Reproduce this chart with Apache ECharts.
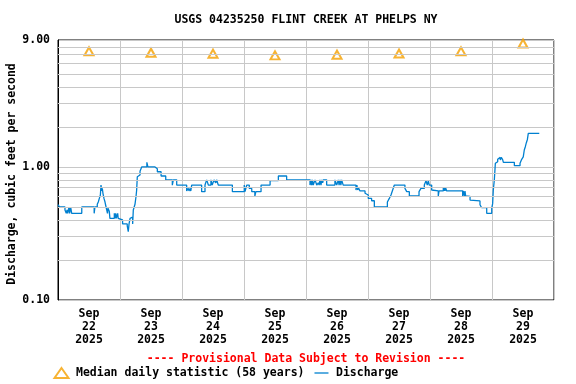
<!DOCTYPE html>
<html><head><meta charset="utf-8">
<script src="https://cdn.jsdelivr.net/npm/echarts@6/dist/echarts.min.js"></script>
<style>html,body{margin:0;padding:0;background:#fff}#c{width:576px;height:384px}</style>
</head><body><div id="c"></div>
<script>
const chartTitle = 'USGS 04235250 FLINT CREEK AT PHELPS NY';
const yAxisTitle = 'Discharge, cubic feet per second';
const provisionalNote = '---- Provisional Data Subject to Revision ----';
const medianName = 'Median daily statistic (58 years)';
const dischargeName = 'Discharge';
const dayLabels = ['Sep\n22\n2025','Sep\n23\n2025','Sep\n24\n2025','Sep\n25\n2025','Sep\n26\n2025','Sep\n27\n2025','Sep\n28\n2025','Sep\n29\n2025'];
// hours since Sep 22 00:00
const medianHours = [12,36,60,84,108,132,156,180];
const medianValues = [7.40,7.22,7.10,6.90,6.98,7.12,7.40,8.47];
const minorGridValues = [0.2,0.3,0.4,0.5,0.6,0.7,0.8,0.9,2,3,4,5,6,7,8];
const dischargeHours = [0,0.6,2.7,3.2,3.5,3.75,4.25,4.5,4.9,5.3,9.2,14.0,14.3,15.2,15.6,16.0,16.4,16.65,16.9,17.15,17.4,17.8,18.2,18.6,18.85,19.15,19.35,19.5,19.85,20.1,21.8,22.0,22.35,22.55,23.1,23.3,24.0,25.0,26.8,27.2,27.5,27.9,28.5,28.9,29.15,29.8,30.2,30.45,30.7,31.1,31.75,32.4,34.4,34.8,37.55,38.45,39.9,41.7,44.25,44.65,45.95,49.8,50.45,50.7,51.1,51.4,51.75,55.6,56.9,57.55,58.2,59.2,59.7,60.4,61.05,61.5,61.75,62.05,67.5,72.1,72.4,73.05,74.05,75.0,76.2,76.6,78.6,82.1,85.3,88.5,97.55,97.9,98.2,98.5,98.8,99.5,100.15,100.75,101.1,101.4,101.8,102.1,102.45,102.7,104.0,107.2,107.9,108.5,108.8,109.2,109.5,109.8,110.4,115.35,115.7,116.0,116.25,116.9,118.85,119.5,120.1,121.4,122.45,127.5,128.25,128.9,129.55,130.2,134.3,135.0,136.0,139.75,140.5,141.8,142.45,142.95,143.35,143.7,144.65,145.3,147.2,147.5,149.15,149.4,149.6,149.8,150.0,150.45,156.65,156.9,157.3,157.55,157.8,158.2,159.5,160.15,163.35,164.0,165.95,167.9,168.25,168.5,168.9,169.3,169.65,170.2,170.6,171.2,171.6,172.15,172.4,176.65,177.6,177.9,178.85,179.5,180.1,180.5,180.9,181.3,181.7,182.05,186.3];
const dischargeValues = [0.52,0.50,0.475,0.448,0.475,0.448,0.50,0.448,0.50,0.448,0.50,0.448,0.50,0.524,0.545,0.58,0.615,0.73,0.66,0.69,0.634,0.58,0.545,0.50,0.475,0.448,0.49,0.50,0.465,0.411,0.448,0.411,0.448,0.411,0.448,0.411,0.40,0.373,0.36,0.326,0.373,0.411,0.42,0.373,0.475,0.524,0.60,0.671,0.845,0.87,0.93,1.0,1.084,1.0,0.97,0.92,0.855,0.80,0.73,0.80,0.731,0.66,0.69,0.66,0.69,0.66,0.731,0.652,0.731,0.80,0.731,0.80,0.731,0.80,0.76,0.80,0.76,0.731,0.652,0.731,0.652,0.731,0.69,0.652,0.605,0.652,0.731,0.79,0.855,0.80,0.731,0.80,0.731,0.80,0.731,0.80,0.731,0.76,0.731,0.80,0.731,0.80,0.76,0.80,0.731,0.80,0.731,0.80,0.731,0.80,0.731,0.80,0.731,0.671,0.731,0.671,0.70,0.66,0.634,0.615,0.58,0.557,0.50,0.545,0.58,0.615,0.671,0.731,0.69,0.652,0.605,0.652,0.69,0.731,0.788,0.731,0.788,0.731,0.671,0.66,0.605,0.66,0.70,0.66,0.70,0.66,0.70,0.66,0.605,0.66,0.605,0.66,0.605,0.60,0.564,0.555,0.52,0.494,0.448,0.49,0.53,0.671,0.80,1.065,1.095,1.142,1.18,1.13,1.18,1.13,1.084,1.022,1.05,1.022,1.065,1.142,1.19,1.341,1.42,1.522,1.61,1.79,1.79];

const FONT = '"DejaVu Sans Mono", monospace';
const FS = 11.5;
const chart = echarts.init(document.getElementById('c'), null, {renderer: 'canvas'});
chart.setOption({
  animation: false,
  backgroundColor: '#fff',
  textStyle: {fontFamily: FONT},
  grid: {left: 58, right: 22, top: 40, bottom: 84, show: true, borderColor: '#000', borderWidth: 1, backgroundColor: 'transparent'},
  legend: {
    left: 48.5, top: 362, padding: 5, itemWidth: 14, itemHeight: 10, itemGap: 10,
    textStyle: {fontFamily: FONT, fontSize: FS, fontWeight: 'bold', color: '#000', padding: [0,0,0,2.5]},
    data: [{name: medianName, icon: 'emptyTriangle'}, {name: dischargeName, icon: 'path://M0,0H14V1.3H0Z'}]
  },
  xAxis: [{
    type: 'value', min: 0, max: 192, interval: 24,
    axisLine: {show: false}, axisTick: {show: false}, axisLabel: {show: false},
    splitLine: {show: true, lineStyle: {color: '#c8c8c8', width: 1}}
  }, {
    type: 'category', position: 'bottom', data: dayLabels, boundaryGap: true,
    axisLine: {show: false}, axisTick: {show: false}, splitLine: {show: false},
    axisLabel: {fontFamily: FONT, fontSize: FS, fontWeight: 'bold', color: '#000', lineHeight: 13.4, margin: 7, interval: 0}
  }],
  yAxis: {
    type: 'log', logBase: 10, min: 0.1, max: 9,
    axisLine: {show: true, lineStyle: {color: '#000'}}, axisTick: {show: false},
    axisLabel: {fontFamily: FONT, fontSize: FS, fontWeight: 'bold', color: '#000', margin: 8, formatter: v => Number(v).toFixed(2)},
    splitLine: {show: true, lineStyle: {color: '#c8c8c8', width: 1}}
  },
  series: [{
    name: 'grid', type: 'line', data: [], silent: true, z: 1,
    markLine: {silent: true, symbol: ['none','none'], label: {show: false},
      lineStyle: {color: '#c8c8c8', width: 1, type: 'solid'},
      data: minorGridValues.map(v => ({yAxis: v}))}
  }, {
    name: dischargeName, type: 'line', step: 'end', showSymbol: false, symbol: 'none', z: 3,
    color: '#0080D0', lineStyle: {color: '#0080D0', width: 1.3},
    data: dischargeHours.map((h, i) => [h, dischargeValues[i]])
  }, {
    name: medianName, type: 'scatter', symbol: 'emptyTriangle', symbolSize: [9, 8], z: 4,
    itemStyle: {color: '#F5A000', borderWidth: 1},
    data: medianHours.map((h, i) => [h, medianValues[i]])
  }],
  graphic: [
    {type: 'text', x: 306, y: 20, style: {text: chartTitle, font: 'bold ' + FS + 'px ' + FONT, fill: '#000', align: 'center', verticalAlign: 'middle'}},
    {type: 'text', x: 12, y: 174, rotation: Math.PI / 2, style: {text: yAxisTitle, font: 'bold ' + FS + 'px ' + FONT, fill: '#000', align: 'center', verticalAlign: 'middle'}},
    {type: 'text', x: 306, y: 359, style: {text: provisionalNote, font: 'bold ' + FS + 'px ' + FONT, fill: '#FF0000', align: 'center', verticalAlign: 'middle'}}
  ]
});
</script></body></html>
